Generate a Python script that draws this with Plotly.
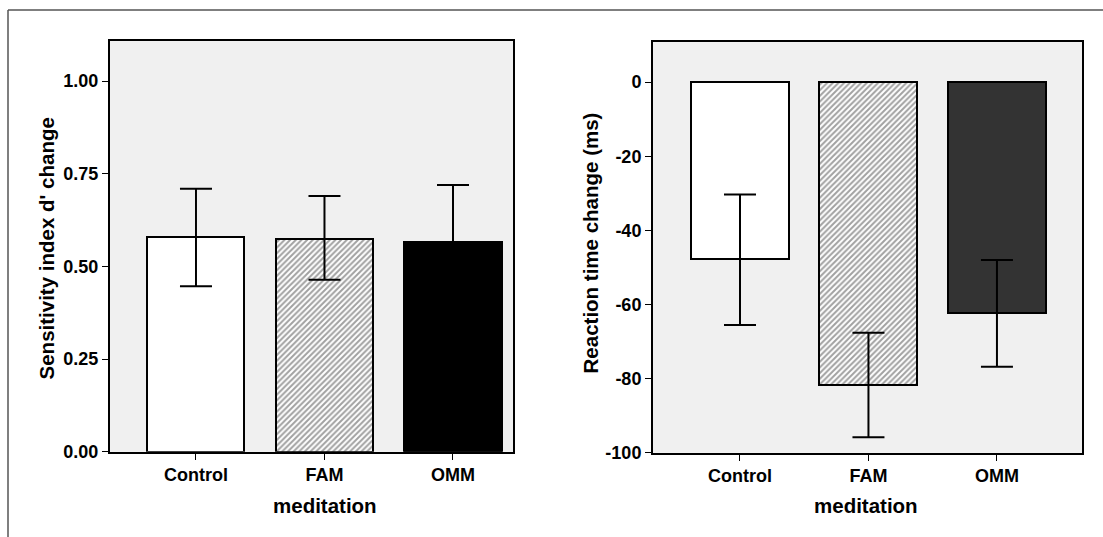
import plotly.graph_objects as go

# ---- data ----
categories = ["Control", "FAM", "OMM"]

dprime_mean = [0.578, 0.575, 0.567]
dprime_ci_low = [0.447, 0.464, 0.414]
dprime_ci_high = [0.710, 0.690, 0.720]

rt_mean = [-47.8, -81.7, -62.4]
rt_ci_low = [-65.5, -95.8, -76.8]
rt_ci_high = [-30.3, -67.6, -48.0]

left_ticks = [0.0, 0.25, 0.50, 0.75, 1.00]
left_tick_labels = ["0.00", "0.25", "0.50", "0.75", "1.00"]
right_ticks = [-100, -80, -60, -40, -20, 0]
right_tick_labels = ["-100", "-80", "-60", "-40", "-20", "0"]

# ---- styling ----
W, H = 1103, 537  # reference picture size used to place things (paper fractions)
FIG_H = 548
FONT = "Liberation Sans, Arial, sans-serif"
left_colors = ["#ffffff", "#ffffff", "#000000"]
right_colors = ["#ffffff", "#ffffff", "#333333"]
patterns = ["", "/", ""]


def px_x(p):
    return p / W


def px_y(p):
    return 1 - p / H


fig = go.Figure()

fig.add_trace(go.Bar(
    x=categories, y=dprime_mean, width=0.755,
    marker=dict(color=left_colors, line=dict(color="black", width=2),
                pattern=dict(shape=patterns, fgcolor="#222222", bgcolor="#ffffff",
                             size=4, solidity=0.5)),
    error_y=dict(type="data", symmetric=False,
                 array=[h - m for h, m in zip(dprime_ci_high, dprime_mean)],
                 arrayminus=[m - l for m, l in zip(dprime_mean, dprime_ci_low)],
                 color="black", thickness=2, width=16),
    xaxis="x", yaxis="y", showlegend=False, hoverinfo="skip",
))

fig.add_trace(go.Bar(
    x=categories, y=rt_mean, width=0.763,
    marker=dict(color=right_colors, line=dict(color="black", width=2),
                pattern=dict(shape=patterns, fgcolor="#222222", bgcolor="#ffffff",
                             size=4, solidity=0.5)),
    error_y=dict(type="data", symmetric=False,
                 array=[h - m for h, m in zip(rt_ci_high, rt_mean)],
                 arrayminus=[m - l for m, l in zip(rt_mean, rt_ci_low)],
                 color="black", thickness=2, width=16),
    xaxis="x2", yaxis="y2", showlegend=False, hoverinfo="skip",
))

axis_common = dict(showline=True, linecolor="black", linewidth=2, mirror=True,
                   ticks="outside", ticklen=6, tickwidth=1, tickcolor="black",
                   showgrid=False, zeroline=False,
                   tickfont=dict(family=FONT, size=18, color="black", weight="bold"))

fig.update_layout(
    width=W, height=FIG_H,
    margin=dict(l=0, r=0, t=0, b=0),
    paper_bgcolor="white",
    plot_bgcolor="#f0f0f0",
    font=dict(family=FONT, color="black"),
    bargap=0,
    xaxis=dict(domain=[px_x(110), px_x(513)], anchor="y",
               range=[-0.669, 2.467], **axis_common),
    yaxis=dict(domain=[px_y(451), px_y(41)], anchor="x",
               range=[0, 1.108], tickvals=left_ticks, ticktext=left_tick_labels,
               **axis_common),
    xaxis2=dict(domain=[px_x(653), px_x(1082)], anchor="y2",
                range=[-0.677, 2.662], **axis_common),
    yaxis2=dict(domain=[px_y(452), px_y(42)], anchor="x2",
                range=[-100, 10.8], tickvals=right_ticks, ticktext=right_tick_labels,
                **axis_common),
)

title_font = dict(family=FONT, size=20.5, color="black", weight="bold")
annotations = [
    dict(text="Sensitivity index d' change", x=px_x(46), y=px_y(248), textangle=-90),
    dict(text="Reaction time change (ms)", x=px_x(590), y=px_y(243), textangle=-90),
    dict(text="meditation", x=px_x(325), y=px_y(505)),
    dict(text="meditation", x=px_x(866), y=px_y(505)),
]
for a in annotations:
    fig.add_annotation(xref="paper", yref="paper", showarrow=False,
                       xanchor="center", yanchor="middle", font=title_font, **a)

# outer frame (top and left edges visible)
fig.add_shape(type="line", xref="paper", yref="paper",
              x0=px_x(8), x1=px_x(1110), y0=px_y(10), y1=px_y(10),
              line=dict(color="#555555", width=1.5))
fig.add_shape(type="line", xref="paper", yref="paper",
              x0=px_x(8), x1=px_x(8), y0=px_y(10), y1=px_y(560),
              line=dict(color="#555555", width=1.5))

fig.write_html(
    "out.html",
    config={"displayModeBar": False},
    post_script="document.documentElement.style.margin='0px';document.body.style.margin='0px';document.body.style.overflow='hidden';document.documentElement.style.overflow='hidden';",
)
